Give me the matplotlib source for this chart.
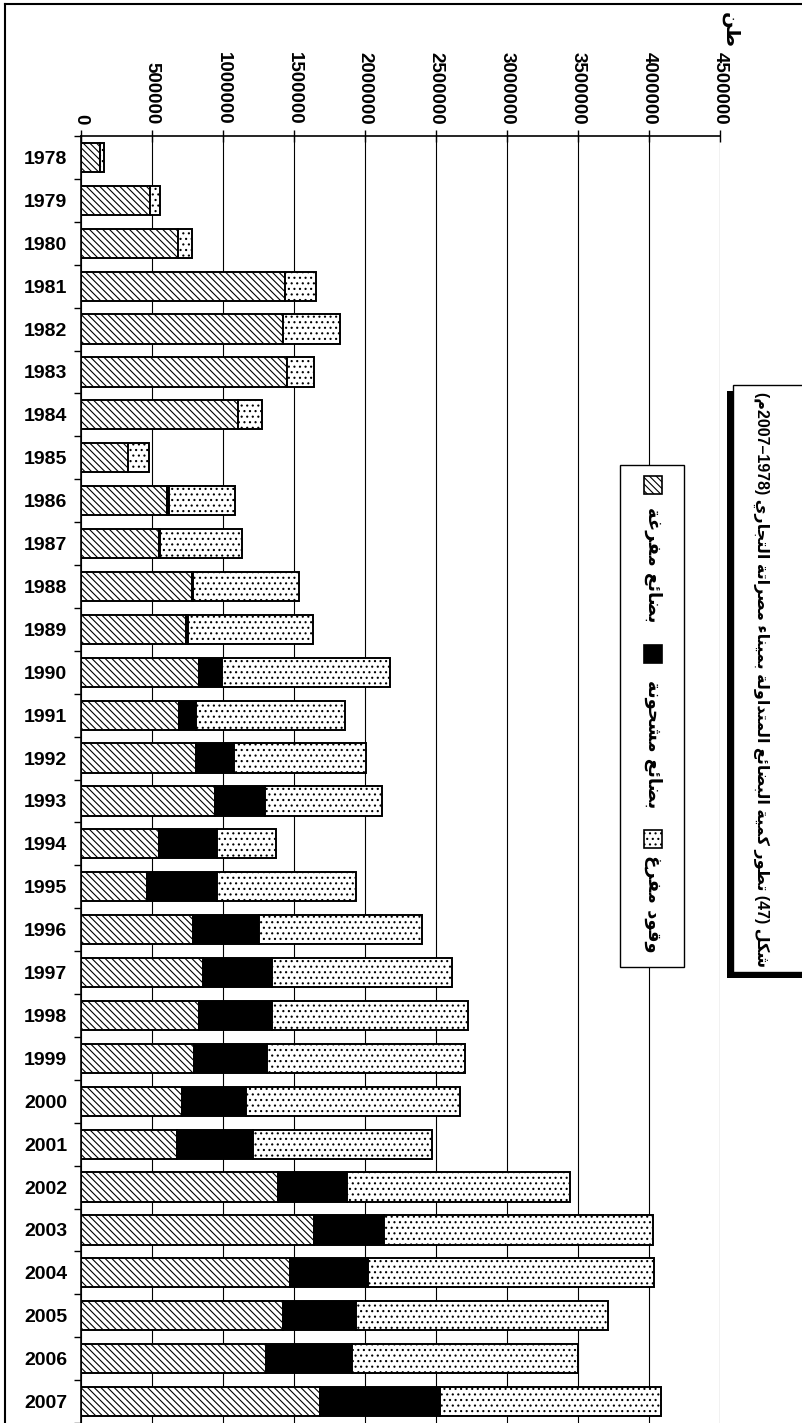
import re
import matplotlib
matplotlib.use("Agg")
import matplotlib.pyplot as plt
from matplotlib.patches import Rectangle
from matplotlib.lines import Line2D

W, H = 803, 1423

years = list(range(1978, 2008))
# tonnes
unloaded = [134000, 486000, 681000, 1436000, 1422000, 1448000, 1109000, 329000,
            606000, 548000, 780000, 740000, 834000, 691000, 813000, 945000,
            552000, 468000, 787000, 858000, 834000, 798000, 714000, 678000,
            1384000, 1641000, 1473000, 1425000, 1302000, 1680000]
loaded = [0, 0, 0, 0, 0, 0, 0, 0,
          17000, 11000, 12000, 17000, 158000, 117000, 261000, 348000,
          407000, 491000, 470000, 484000, 508000, 515000, 447000, 536000,
          486000, 492000, 550000, 509000, 607000, 849000]
fuel = [28000, 73000, 99000, 218000, 404000, 195000, 165000, 148000,
        463000, 576000, 743000, 876000, 1187000, 1054000, 933000, 825000,
        416000, 975000, 1141000, 1274000, 1382000, 1390000, 1507000, 1258000,
        1576000, 1896000, 2014000, 1780000, 1591000, 1556000]
xticks = [0, 500000, 1000000, 1500000, 2000000, 2500000, 3000000,
          3500000, 4000000, 4500000]

title = "شكل (47) تطور كمية البضائع المتداولة بميناء مصراتة التجاري (1978–2007م)"
legend_labels = ["بضائع مفرغة", "بضائع مشحونة", "وقود مفرغ"]
unit = "طن"

# arabic presentation forms: isolated, final, initial, medial
FORMS = {
    'ء': ('\uFE80',),
    'ا': ('\uFE8D', '\uFE8E'),
    'ة': ('\uFE93', '\uFE94'),
    'د': ('\uFEA9', '\uFEAA'),
    'ر': ('\uFEAD', '\uFEAE'),
    'و': ('\uFEED', '\uFEEE'),
    'ئ': ('\uFE89', '\uFE8A', '\uFE8B', '\uFE8C'),
    'ب': ('\uFE8F', '\uFE90', '\uFE91', '\uFE92'),
    'ت': ('\uFE95', '\uFE96', '\uFE97', '\uFE98'),
    'ج': ('\uFE9D', '\uFE9E', '\uFE9F', '\uFEA0'),
    'ح': ('\uFEA1', '\uFEA2', '\uFEA3', '\uFEA4'),
    'ش': ('\uFEB5', '\uFEB6', '\uFEB7', '\uFEB8'),
    'ص': ('\uFEB9', '\uFEBA', '\uFEBB', '\uFEBC'),
    'ض': ('\uFEBD', '\uFEBE', '\uFEBF', '\uFEC0'),
    'ط': ('\uFEC1', '\uFEC2', '\uFEC3', '\uFEC4'),
    'ع': ('\uFEC9', '\uFECA', '\uFECB', '\uFECC'),
    'غ': ('\uFECD', '\uFECE', '\uFECF', '\uFED0'),
    'ف': ('\uFED1', '\uFED2', '\uFED3', '\uFED4'),
    'ق': ('\uFED5', '\uFED6', '\uFED7', '\uFED8'),
    'ك': ('\uFED9', '\uFEDA', '\uFEDB', '\uFEDC'),
    'ل': ('\uFEDD', '\uFEDE', '\uFEDF', '\uFEE0'),
    'م': ('\uFEE1', '\uFEE2', '\uFEE3', '\uFEE4'),
    'ن': ('\uFEE5', '\uFEE6', '\uFEE7', '\uFEE8'),
    'ي': ('\uFEF1', '\uFEF2', '\uFEF3', '\uFEF4'),
}


def arabic(s):
    out = []
    for i, ch in enumerate(s):
        if ch not in FORMS:
            out.append(ch)
            continue
        f = FORMS[ch]
        prev = s[i - 1] if i > 0 else ''
        nxt = s[i + 1] if i + 1 < len(s) else ''
        jp = prev in FORMS and len(FORMS[prev]) == 4 and len(f) > 1
        jn = len(f) == 4 and nxt in FORMS
        if jp and jn:
            out.append(f[3])
        elif jp:
            out.append(f[1])
        elif jn:
            out.append(f[2])
        else:
            out.append(f[0])
    # visual order: reverse, keep digit runs, mirror brackets
    toks = re.findall(r'\d+|.', ''.join(out))[::-1]
    swap = {'(': ')', ')': '('}
    return ''.join(swap.get(t, t) for t in toks)


def fx(x):
    return x / W


def fy(y):
    return 1 - y / H


plt.rcParams['hatch.linewidth'] = 0.8
arfont = ['Liberation Sans', 'DejaVu Sans']

fig = plt.figure(figsize=(W / 100, H / 100), dpi=100)
ax = fig.add_axes([fx(81), 0, (720 - 81) / W, 1 - 136 / H])

pos = list(range(len(years)))
left2 = [a + b for a, b in zip(unloaded, loaded)]
ax.barh(pos, unloaded, height=0.68, color='white', edgecolor='black',
        hatch='\\\\\\\\\\', lw=1.4, zorder=2)
ax.barh(pos, loaded, left=unloaded, height=0.68, color='black',
        edgecolor='black', lw=1.4, zorder=2)
ax.barh(pos, fuel, left=left2, height=0.68, color='white', edgecolor='black',
        hatch='...', lw=1.4, zorder=2)

ax.set_ylim(len(years) - 0.5, -0.5)
ax.set_xlim(0, 4500000)
ax.set_yticks(pos)
ax.set_yticklabels([str(y) for y in years], fontfamily='Liberation Sans',
                   fontweight='bold', fontsize=14)
ax.set_yticks([p - 0.5 for p in pos] + [len(years) - 0.5], minor=True)
ax.tick_params(axis='y', which='major', length=0, pad=10)
ax.tick_params(axis='y', which='minor', length=5, width=1, direction='out')

ax.xaxis.tick_top()
ax.set_xticks(xticks)
ax.set_xticklabels([str(v) for v in xticks], rotation=-90,
                   fontfamily='Liberation Sans', fontweight='bold', fontsize=13.5)
ax.tick_params(axis='x', direction='inout', length=9, width=1, pad=4)
ax.xaxis.grid(True, color='black', lw=0.8)
ax.set_axisbelow(True)
for s in ['right', 'bottom']:
    ax.spines[s].set_visible(False)
ax.spines['top'].set_linewidth(1.2)
ax.spines['left'].set_linewidth(1.2)

# outer frame
fig.add_artist(Line2D([fx(5), fx(5)], [fy(4), 0], color='black', lw=1.5))
fig.add_artist(Line2D([fx(5), 1], [fy(4), fy(4)], color='black', lw=1.5))

# unit label
fig.text(fx(730), fy(12), arabic(unit), rotation=-90, ha='center', va='top',
         fontsize=14, fontweight='bold', family='DejaVu Sans')

# title box with shadow
tb_top, tb_bot = 385, 972
fig.add_artist(Rectangle((fx(727), fy(tb_bot + 6)), 90 / W, (tb_bot - tb_top) / H,
                         transform=fig.transFigure, facecolor='black',
                         edgecolor='none'))
fig.add_artist(Rectangle((fx(733), fy(tb_bot)), 90 / W, (tb_bot - tb_top) / H,
                         transform=fig.transFigure, facecolor='white',
                         edgecolor='black', lw=1))
fig.text(fx(761), fy(392), arabic(title), rotation=-90, ha='center', va='top',
         fontsize=11.5, fontweight='bold', family=arfont)

# legend
fig.add_artist(Rectangle((fx(620), fy(967)), 64 / W, (967 - 465) / H,
                         transform=fig.transFigure, facecolor='white',
                         edgecolor='black', lw=1))
sw_y = [476, 645, 830]
txt_y = [507, 680, 855]
styles = [dict(facecolor='white', hatch='\\\\\\\\\\'),
          dict(facecolor='black'),
          dict(facecolor='white', hatch='...')]
for sy, ty, st, lab in zip(sw_y, txt_y, styles, legend_labels):
    fig.add_artist(Rectangle((fx(644), fy(sy + 18)), 18 / W, 18 / H,
                             transform=fig.transFigure, edgecolor='black',
                             lw=1.2, **st))
    fig.text(fx(653), fy(ty), arabic(lab), rotation=-90, ha='center', va='top',
             fontsize=13, fontweight='bold', family='DejaVu Sans')

fig.savefig("out.png", dpi=100)
